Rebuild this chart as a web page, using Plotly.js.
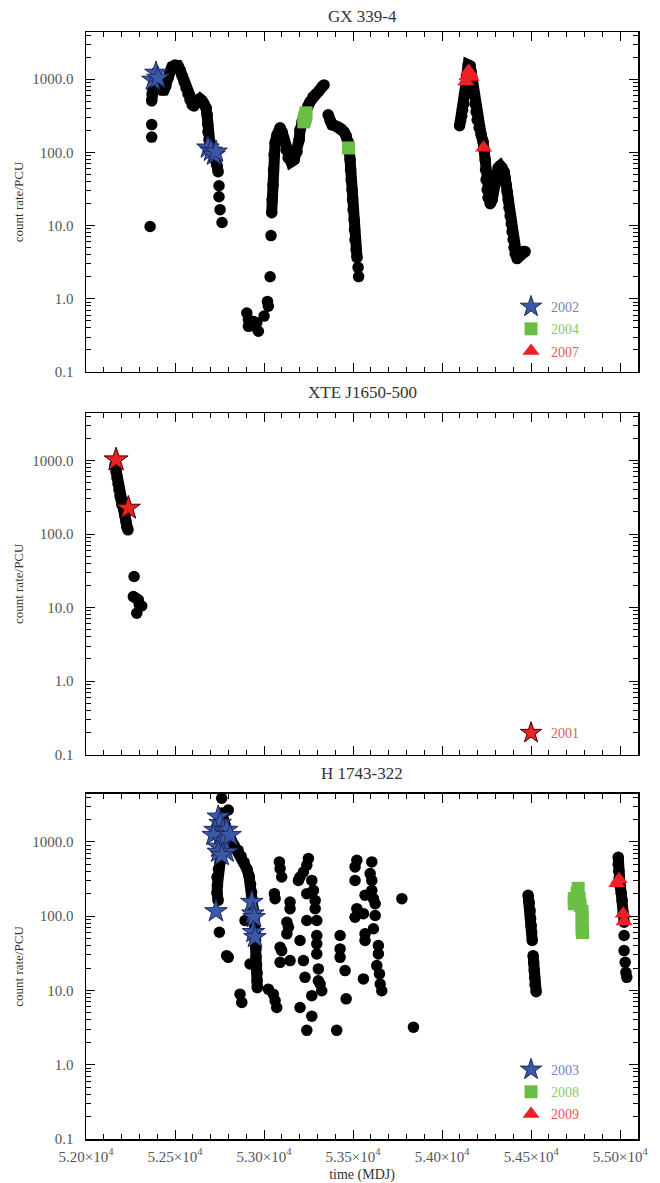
<!DOCTYPE html>
<html>
<head>
<meta charset="utf-8">
<script src="https://cdn.plot.ly/plotly-3.0.1.min.js"></script>
<style>html,body{margin:0;padding:0;background:#fff;}#chart{width:660px;height:1183px;}</style>
</head>
<body>
<div id="chart"></div>
<script>
// ---------------- DATA (MJD, count rate/PCU) ----------------
// GX 339-4 : continuous runs (null separates runs)
const gxRunT = [
  52369,52371,52376,52382,52393,52404,52416,52427,52438,52449,52461,52472,52483,52500,52517,52528,52539,52551,52562,52573,52584,52596,52607,52618,52629,52640,52652,52663,52674,52680,52683,52685,52691,52697,52708,52719,52730,52736,52742,null,
  53043,53045,53050,53053,53056,53062,53073,53090,53101,53112,53124,53135,53152,53169,53185,53197,53202,53213,53225,53236,53247,53258,53275,53292,53309,53326,53337,null,
  53360,53371,53382,53399,53416,53433,53449,53461,53472,53478,53483,53486,53489,53494,53497,53500,53506,53508,53511,53517,53522,null,
  54098,54104,54110,54115,54121,54126,54132,54138,54146,54157,54163,54169,54174,54180,54185,54191,54197,54208,54219,54230,54236,54242,54244,54247,54253,54258,54270,54281,54287,54292,54303,54315,54326,54337,54348,54354,54360,54365,54371,54376,54382,54388,54393,54399,54404,54410,54421,54438,54455,54466
];
const gxRunR = [
  506,630,761,890,978,863,761,714,714,810,1042,1257,1472,1567,1518,1340,1109,919,761,630,522,446,432,475,522,539,506,460,406,326,245,191,149,123,105,92.7,79.3,65.6,54.3,null,
  15.0,22.5,36.1,57.9,92.7,135,174,217,191,149,108,84.3,74.4,79.3,102,149,203,261,306,370,432,490,574,630,692,785,836,null,
  326,270,238,231,223,210,191,168,140,108,79.3,57.9,42.3,30.9,22.5,16.5,12.0,8.8,6.43,4.69,3.65,null,
  231,269,316,381,460,592,810,1109,1567,1518,1257,978,761,592,460,358,278,217,174,140,108,79.3,57.9,42.3,30.9,24.0,19.9,22.5,29.0,37.3,48.0,61.7,65.6,61.7,54.3,45.0,36.1,29.0,22.5,17.5,13.6,10.6,8.26,6.43,5.0,4.14,3.54,3.89,4.41,4.41
];
// GX 339-4 : isolated observations
const gxDotT = [52360,52369,52369,52747,52747,52753,52764,52903,52912,52912,52940,52949,52959,52968,53000,53019,53024,53034,53039,53528,53531];
const gxDotR = [9.7,162,240,35.0,24.8,16.5,11.0,0.64,0.52,0.42,0.49,0.42,0.47,0.36,0.58,0.92,0.79,2.0,7.3,2.68,2.01];
// GX 339-4 : selected observations per year
const gx2002T = [52376,52393,52404,52685,52702,52719,52730];
const gx2002R = [978,1219,1042,116,105,92.7,102];
const gx2004T = [53223,53227,53230,53233,53236,53474];
const gx2004R = [261,281,301,322,347,115];
const gx2007T = [54133,54140,54149,54157,54163,54233];
const gx2007R = [930,1100,1298,1180,1075,116];

// XTE J1650-500
const xteRunT = [52163,52169,52174,52180,52185,52191,52197,52202,52213,52219,52225,52230,52236];
const xteRunR = [874,701,581,482,399,331,292,249,213,177,147,125,114];
const xteDotT = [52270,52266,52281,52294,52299,52285,52313];
const xteDotR = [26.4,14.1,13.4,12.7,10.9,8.4,10.5];
const xte2001T = [52169,52238];
const xte2001R = [1022,225];

// H 1743-322
const hRunT = [
  52762,52770,52781,52798,52815,52831,52854,52871,52888,52904,52916,52924,52930,52935,52938,52944,52947,52949,52952,52955,52955,52958,52961,52961,52962,null,
  52753,52744,52736,52738,52736,52742,null,
  54483,54489,54494,54497,54500,54503,54506,null,
  54511,54514,54517,54520,54522,54528,null,
  54989,54989,54992,54994,55000,55006,55011,55017,55022
];
const hRunR = [
  2443,1963,1531,1234,1054,902,773,641,532,428,344,268,209,163,127,98.8,77.2,60.2,47.0,36.6,28.5,22.2,17.3,13.5,10.9,null,
  532,428,333,260,203,163,null,
  191,153,119,93.0,74.9,60.2,47.0,null,
  29.4,23.7,18.5,14.9,11.9,9.6,null,
  621,500,402,323,252,203,163,108,82.9
];
const hDotT = [52762,52799,52749,52790,52799,52893,52921,52865,52875,53024,53052,53062,53071,
  53086,53090,53099,53058,53062,53146,53146,53128,53137,53128,53090,53099,53090,53146,53202,53230,53202,
  53249,53240,53221,53202,53193,53268,53277,53240,53287,53287,53240,53296,53296,53296,53296,53305,53305,53315,53324,53268,53268,53221,53240,
  53427,53427,53427,53455,53461,53408,
  53521,53511,53511,53521,53511,53558,53567,53605,53596,53605,53605,53614,53624,53624,53614,53567,53567,53642,53642,53633,53648,53558,53652,53661,
  53774,53839,
  55022,55022,55028,55032,55037];
const hDotR = [3857,2681,60.8,29.4,27.9,87.5,22.7,8.9,6.9,10.4,8.9,7.3,5.9,
  537,437,337,201,172,155,126,82.9,71.0,57.8,38.1,34.4,23.9,25.2,47.0,15.0,5.9,
  597,485,393,337,303,303,222,201,163,126,87.5,87.5,54.8,42.4,31.0,19.5,13.5,12.2,9.9,8.5,4.5,25.2,2.9,
  54.8,36.2,27.9,18.5,7.7,2.9,
  566,460,303,126,96.8,108,191,537,374,303,222,172,147,102,67.6,57.8,47.0,40.2,31.0,21.6,16.7,14.3,12.2,9.9,
  172,3.2,
  54.8,34.4,23.9,17.5,15.0];
const h2003T = [52743,52753,52725,52771,52790,52753,52715,52771,52743,52790,52743,52762,52809,52931,52937,52944,52940,52949,52730];
const h2003R = [2178,1791,1442,1442,1442,1169,1234,1000,856,732,732,661,1234,155,108,96.8,60.8,52.0,116];
const h2008T = [54764,54758,54742,54770,54742,54775,54786,54786,54786,54786,54789];
const h2008R = [237,203,172,172,147,140,116,96,79.7,66.1,60.2];
const h2009T = [54981,54994,55017,55022];
const h2009R = [277,313,108,85];

// axis ticks
const xTickVals = [52000,52500,53000,53500,54000,54500,55000];
const xTickText = ['5.20×10<sup>4</sup>','5.25×10<sup>4</sup>','5.30×10<sup>4</sup>','5.35×10<sup>4</sup>','5.40×10<sup>4</sup>','5.45×10<sup>4</sup>','5.50×10<sup>4</sup>'];
const yTickVals = [0.1,1,10,100,1000];
const yTickText = ['0.1','1.0','10.0','100.0','1000.0'];
const panelTitles = ['GX 339-4','XTE J1650-500','H 1743-322'];

// ---------------- STYLE ----------------
const FONT = 'Liberation Serif, Times New Roman, serif';
const BLUE = '#3b57a6', GREEN = '#6abd45', RED = '#ed2024';
const yMinorVals = [];
for (let e = -1; e <= 3; e++) for (let m = 2; m <= 9; m++) yMinorVals.push(m * Math.pow(10, e));

function runTrace(t, r, xa, ya) {
  return {x: t, y: r, xaxis: xa, yaxis: ya, type: 'scatter', mode: 'lines+markers', connectgaps: false,
    line: {color: '#000', width: 11}, marker: {color: '#000', size: 11.5}, showlegend: false, hoverinfo: 'skip'};
}
function dotTrace(t, r, xa, ya) {
  return {x: t, y: r, xaxis: xa, yaxis: ya, type: 'scatter', mode: 'markers',
    marker: {color: '#000', size: 11.5}, showlegend: false, hoverinfo: 'skip'};
}
function selTrace(t, r, xa, ya, name, txtColor, symbol, color, size, lineColor, lineW, leg) {
  return {x: t, y: r, xaxis: xa, yaxis: ya, type: 'scatter', mode: 'markers', legendgroup: name,
    name: '<span style="color:' + txtColor + '">' + name + '</span>', legend: leg,
    marker: {symbol: symbol, color: color, size: size, line: {color: lineColor, width: lineW}}};
}

const data = [
  runTrace(gxRunT, gxRunR, 'x', 'y'), dotTrace(gxDotT, gxDotR, 'x', 'y'),
  selTrace(gx2002T, gx2002R, 'x', 'y', '2002', '#7385c2', 'star', BLUE, 17, '#1c2a5e', 1, 'legend'),
  selTrace(gx2004T, gx2004R, 'x', 'y', '2004', '#8ccb6d', 'square', GREEN, 13, GREEN, 0, 'legend'),
  selTrace(gx2007T, gx2007R, 'x', 'y', '2007', '#ef5559', 'triangle-up', RED, 15, RED, 0, 'legend'),
  runTrace(xteRunT, xteRunR, 'x2', 'y2'), dotTrace(xteDotT, xteDotR, 'x2', 'y2'),
  selTrace(xte2001T, xte2001R, 'x2', 'y2', '2001', '#ef5559', 'star', RED, 18, '#3a0000', 1, 'legend2'),
  runTrace(hRunT, hRunR, 'x3', 'y3'), dotTrace(hDotT, hDotR, 'x3', 'y3'),
  selTrace(h2003T, h2003R, 'x3', 'y3', '2003', '#7385c2', 'star', BLUE, 17, '#1c2a5e', 1, 'legend3'),
  selTrace(h2008T, h2008R, 'x3', 'y3', '2008', '#8ccb6d', 'square', GREEN, 13, GREEN, 0, 'legend3'),
  selTrace(h2009T, h2009R, 'x3', 'y3', '2009', '#ef5559', 'triangle-up', RED, 15, RED, 0, 'legend3')
];

function xax(anchor, showLabels) {
  return {anchor: anchor, range: [52000, 55100], tickmode: 'array', tickvals: xTickVals, ticktext: xTickText,
    showticklabels: showLabels, ticks: 'inside', ticklen: 9, tickwidth: 1, tickcolor: '#000',
    minor: {ticks: 'inside', ticklen: 5, dtick: 100, tick0: 52000, tickcolor: '#000', showgrid: false},
    showline: true, linecolor: '#000', linewidth: 1.5, mirror: 'ticks', showgrid: false, zeroline: false,
    tickfont: {family: FONT, size: 15, color: '#555'}, ticklabelstandoff: 3, automargin: false};
}
function yax(domain) {
  return {type: 'log', domain: domain, range: [-1, 3.645], tickmode: 'array', tickvals: yTickVals, ticktext: yTickText,
    ticks: 'inside', ticklen: 9, tickwidth: 1, tickcolor: '#000',
    minor: {tickmode: 'array', tickvals: yMinorVals, ticks: 'inside', ticklen: 5, tickcolor: '#000', showgrid: false},
    showline: true, linecolor: '#000', linewidth: 1.5, mirror: 'ticks', showgrid: false, zeroline: false,
    tickfont: {family: FONT, size: 15, color: '#555'}, ticklabelstandoff: 8, automargin: false,
    title: {text: 'count rate/PCU', font: {family: FONT, size: 13, color: '#333'}, standoff: 5}};
}

const x3 = xax('y3', true);
x3.title = {text: 'time (MDJ)', font: {family: FONT, size: 14, color: '#333'}, standoff: 8};

const legendBase = {xanchor: 'left', yanchor: 'top', bgcolor: 'rgba(0,0,0,0)', borderwidth: 0,
  font: {family: FONT, size: 14}, tracegroupgap: 1, itemsizing: 'trace'};

const layout = {
  width: 660, height: 1183,
  margin: {l: 86, r: 22, t: 32, b: 44},
  paper_bgcolor: '#fff', plot_bgcolor: '#fff',
  font: {family: FONT},
  xaxis: xax('y', false), xaxis2: xax('y2', false), xaxis3: x3,
  yaxis: yax([0.6929, 1]), yaxis2: yax([0.3472, 0.6558]), yaxis3: yax([0, 0.3117]),
  legend: Object.assign({x: 0.77, y: 0.766}, legendBase),
  legend2: Object.assign({x: 0.77, y: 0.381}, legendBase),
  legend3: Object.assign({x: 0.77, y: 0.0768}, legendBase),
  annotations: panelTitles.map((t, i) => ({
    text: t, xref: (i === 0 ? 'x' : 'x' + (i + 1)) + ' domain', yref: (i === 0 ? 'y' : 'y' + (i + 1)) + ' domain',
    x: 0.5, y: 1, xanchor: 'center', yanchor: 'bottom', yshift: i === 0 ? 4 : 9, showarrow: false,
    font: {family: FONT, size: 17, color: '#333'}
  })),
  showlegend: true
};

Plotly.newPlot('chart', data, layout, {staticPlot: true, displayModeBar: false});
</script>
</body>
</html>
